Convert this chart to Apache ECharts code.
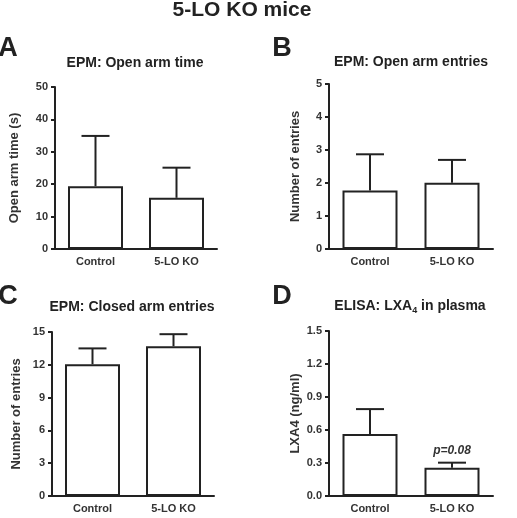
<!DOCTYPE html>
<html>
<head>
<meta charset="utf-8">
<script src="https://cdn.jsdelivr.net/npm/echarts@6/dist/echarts.min.js"></script>
<style>
  html, body { margin: 0; padding: 0; background: #fff; }
  #main { width: 517px; height: 518px; }
</style>
</head>
<body>
<div id="main"></div>
<script>
var categories = ['Control', '5-LO KO'];

// panel A: open arm time (s)
var openTimeMean = [19.4, 15.8];
var openTimeSem = [15.5, 9.3];
// panel B: open arm entries
var openEntriesMean = [1.77, 2.01];
var openEntriesSem = [1.1, 0.69];
// panel C: closed arm entries
var closedEntriesMean = [12.05, 13.7];
var closedEntriesSem = [1.45, 1.1];
// panel D: LXA4 in plasma (ng/ml)
var lxaMean = [0.564, 0.257];
var lxaSem = [0.226, 0.046];
var lxaNotes = ['', 'p=0.08'];

var FONT = 'Liberation Sans, Arial, sans-serif';
var INK = '#222';

var chartDom = document.getElementById('main');
var myChart = echarts.init(chartDom);
var option;

function errorItems(mean, sem, notes) {
  return mean.map(function (m, i) {
    return [i, m, sem[i], notes ? notes[i] : ''];
  });
}

function renderError(params, api) {
  var x = api.value(0);
  var mean = api.value(1);
  var sem = api.value(2);
  var note = api.value(3);
  var p0 = api.coord([x, mean]);
  var p1 = api.coord([x, mean + sem]);
  var half = 14;
  var style = { stroke: INK, lineWidth: 2 };
  var children = [
    { type: 'line', shape: { x1: p0[0], y1: p0[1], x2: p1[0], y2: p1[1] }, style: style },
    { type: 'line', shape: { x1: p1[0] - half, y1: p1[1], x2: p1[0] + half, y2: p1[1] }, style: style }
  ];
  if (note) {
    children.push({
      type: 'text',
      x: p1[0],
      y: p1[1] - 6,
      style: {
        text: note,
        fill: '#333',
        font: 'italic bold 12px ' + FONT,
        textAlign: 'center',
        textVerticalAlign: 'bottom'
      }
    });
  }
  return { type: 'group', children: children };
}

function xAxisFor(idx) {
  return {
    type: 'category',
    gridIndex: idx,
    data: categories,
    axisLine: { lineStyle: { color: INK, width: 2 } },
    axisTick: { alignWithLabel: true, length: 4, lineStyle: { color: INK, width: 2 } },
    axisLabel: { color: '#333', fontWeight: 'bold', fontSize: 11, fontFamily: FONT, margin: 7 }
  };
}

function yAxisFor(idx, name, max, interval, gap, digits) {
  return {
    type: 'value',
    gridIndex: idx,
    min: 0,
    max: max,
    interval: interval,
    name: name,
    nameLocation: 'middle',
    nameGap: gap,
    nameTextStyle: { color: '#333', fontWeight: 'bold', fontSize: 13, fontFamily: FONT },
    splitLine: { show: false },
    axisLine: { show: true, lineStyle: { color: INK, width: 2 } },
    axisTick: { show: true, length: 4, lineStyle: { color: INK, width: 2 } },
    axisLabel: {
      color: '#333', fontWeight: 'bold', fontSize: 11, fontFamily: FONT, margin: 7,
      formatter: function (v) { return v.toFixed(digits); }
    }
  };
}

function barSeries(idx, data) {
  return {
    type: 'bar',
    xAxisIndex: idx,
    yAxisIndex: idx,
    data: data,
    barWidth: 55,
    itemStyle: { color: '#fff', borderColor: INK, borderWidth: 2 },
    silent: true
  };
}

function errSeries(idx, items) {
  return {
    type: 'custom',
    xAxisIndex: idx,
    yAxisIndex: idx,
    data: items,
    renderItem: renderError,
    z: 5,
    silent: true
  };
}

function titleAt(text, left, top, size, extra) {
  var t = {
    text: text,
    left: left,
    top: top,
    padding: 0,
    textAlign: 'center',
    textStyle: { color: INK, fontWeight: 'bold', fontSize: size, fontFamily: FONT }
  };
  if (extra) t.textStyle.rich = extra;
  return t;
}

option = {
  backgroundColor: '#fff',
  animation: false,
  title: [
    titleAt('5-LO KO mice', 242, 0, 21),
    titleAt('A', 8, 35, 27),
    titleAt('B', 282, 35, 27),
    titleAt('C', 8, 283, 27),
    titleAt('D', 282, 283, 27),
    titleAt('EPM: Open arm time', 135, 56, 14),
    titleAt('EPM: Open arm entries', 411, 55, 14),
    titleAt('EPM: Closed arm entries', 132, 300, 14),
    titleAt('ELISA: LXA{sub|4} in plasma', 410, 298, 14, {
      sub: { fontSize: 9, fontWeight: 'bold', color: INK, fontFamily: FONT, verticalAlign: 'bottom', padding: [8, 0, 0, 0] }
    })
  ],
  grid: [
    { left: 55, top: 87, width: 162, height: 162 },
    { left: 329, top: 84, width: 164, height: 165 },
    { left: 52, top: 332, width: 162, height: 164 },
    { left: 329, top: 331, width: 164, height: 165 }
  ],
  xAxis: [xAxisFor(0), xAxisFor(1), xAxisFor(2), xAxisFor(3)],
  yAxis: [
    yAxisFor(0, 'Open arm time (s)', 50, 10, 34, 0),
    yAxisFor(1, 'Number of entries', 5, 1, 27, 0),
    yAxisFor(2, 'Number of entries', 15, 3, 29, 0),
    yAxisFor(3, 'LXA4 (ng/ml)', 1.5, 0.3, 27, 1)
  ],
  series: [
    barSeries(0, openTimeMean),
    errSeries(0, errorItems(openTimeMean, openTimeSem)),
    barSeries(1, openEntriesMean),
    errSeries(1, errorItems(openEntriesMean, openEntriesSem)),
    barSeries(2, closedEntriesMean),
    errSeries(2, errorItems(closedEntriesMean, closedEntriesSem)),
    barSeries(3, lxaMean),
    errSeries(3, errorItems(lxaMean, lxaSem, lxaNotes))
  ]
};

option && myChart.setOption(option);
</script>
</body>
</html>
